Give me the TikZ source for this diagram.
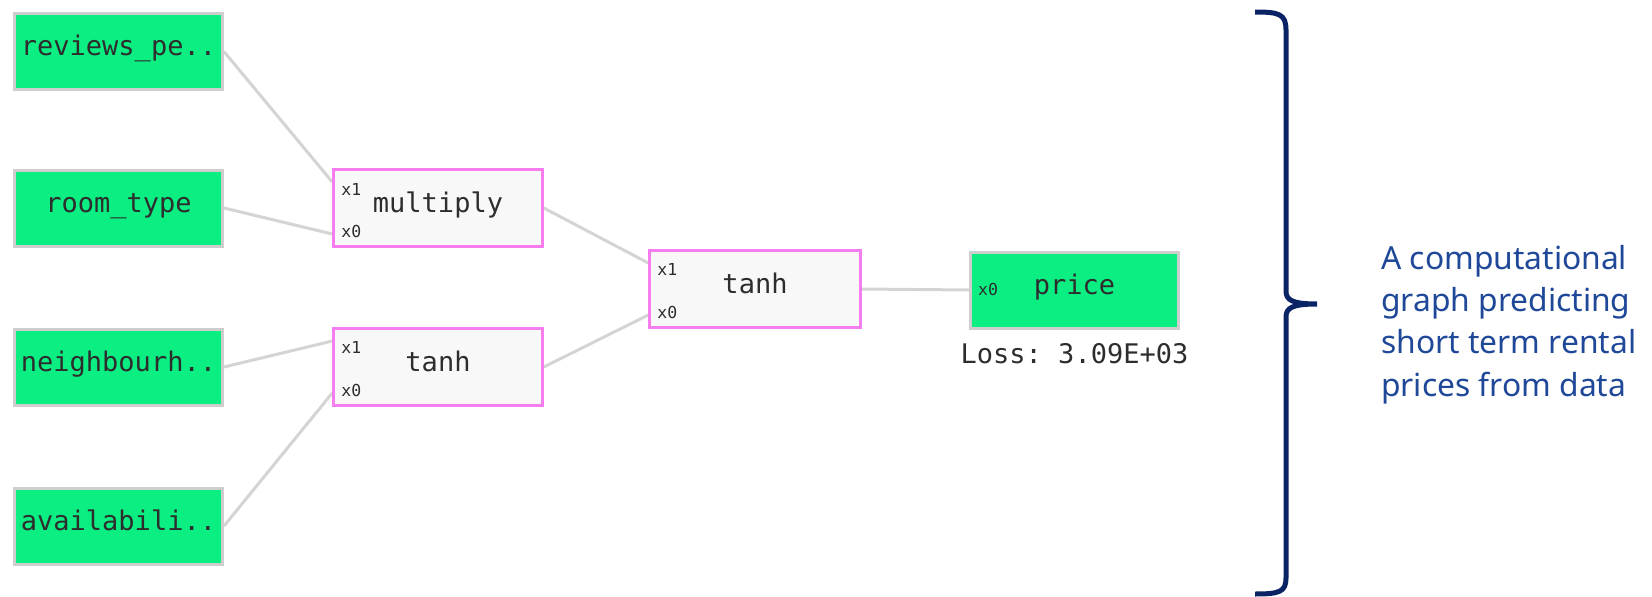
\documentclass[tikz,border=0pt]{standalone}
\usepackage{fontspec}
\setmainfont{Noto Sans}
\setmonofont{DejaVu Sans Mono}
\usetikzlibrary{backgrounds}

\definecolor{nodegreen}{RGB}{10,238,130}
\definecolor{boxgray}{RGB}{206,206,206}
\definecolor{wiregray}{RGB}{212,212,212}
\definecolor{oppink}{RGB}{245,125,240}
\definecolor{opfill}{RGB}{248,248,248}
\definecolor{labelgray}{RGB}{45,45,45}
\definecolor{bracenavy}{RGB}{10,35,100}
\definecolor{notetext}{RGB}{31,72,152}

\newcommand{\labelfont}{\ttfamily\fontsize{27}{30}\selectfont}
\newcommand{\portfont}{\ttfamily\fontsize{16.5}{18}\selectfont}
\newcommand{\notefont}{\fontsize{31.8}{42.3}\selectfont}

\begin{document}
\begin{tikzpicture}[x=1pt,y=-1pt,
  datanode/.style={draw=boxgray, line width=3pt, fill=nodegreen,
    minimum width=208pt, minimum height=76pt, inner sep=0pt,
    font=\labelfont, text=labelgray, text height=0.8em, text depth=0pt},
  opnode/.style={draw=oppink, line width=2.5pt, fill=opfill,
    minimum width=209pt, minimum height=77pt, inner sep=0pt,
    font=\labelfont, text=labelgray, text height=0.8em, text depth=0pt},
  port/.style={font=\portfont, text=labelgray, inner sep=0pt},
  wire/.style={draw=wiregray, line width=3pt},
  bracepath/.style={draw=bracenavy, line width=5pt}
]
\useasboundingbox (0,0) rectangle (1652,597);

% input columns
\node[datanode] (reviews)  at (118.5,51.6) {reviews\_pe..};
\node[datanode] (roomtype) at (118.5,208)  {room\_type};
\node[datanode] (neigh)    at (118.5,367)  {neighbourh..};
\node[datanode] (avail)    at (118.5,526)  {availabili..};

% operations
\node[opnode] (mult)  at (438,208) {multiply};
\node[opnode] (tanhA) at (438,367) {tanh};
\node[opnode, minimum width=211pt] (tanhB) at (755,289) {tanh};

% output
\node[datanode] (price) at (1074.5,290) {price};
\node[font=\labelfont, text=labelgray, inner sep=0pt] (loss) at (1074.5,354) {Loss: 3.09E+03};

% input ports
\coordinate (mult-x1)  at ([yshift=26pt]mult.west);
\coordinate (mult-x0)  at ([yshift=-26pt]mult.west);
\coordinate (tanhA-x1) at ([yshift=26pt]tanhA.west);
\coordinate (tanhA-x0) at ([yshift=-26pt]tanhA.west);
\coordinate (tanhB-x1) at ([yshift=26pt]tanhB.west);
\coordinate (tanhB-x0) at ([yshift=-26pt]tanhB.west);

\node[port] (mult-l1)  at ([xshift=19pt,yshift=19pt]mult.west)  {x1};
\node[port] (mult-l0)  at ([xshift=19pt,yshift=-23pt]mult.west) {x0};
\node[port] (tanhA-l1) at ([xshift=19pt,yshift=20pt]tanhA.west)  {x1};
\node[port] (tanhA-l0) at ([xshift=19pt,yshift=-23pt]tanhA.west) {x0};
\node[port] (tanhB-l1) at ([xshift=19pt,yshift=20pt]tanhB.west)  {x1};
\node[port] (tanhB-l0) at ([xshift=19pt,yshift=-23pt]tanhB.west) {x0};
\node[port] (price-l0) at ([xshift=19pt,yshift=1pt]price.west) {x0};

% connectors, kept behind the boxes
\begin{scope}[on background layer]
\draw[wire] (reviews.east)  -- (mult-x1);
\draw[wire] (roomtype.east) -- (mult-x0);
\draw[wire] (neigh.east)    -- (tanhA-x1);
\draw[wire] (avail.east)    -- (tanhA-x0);
\draw[wire] (mult.east)     -- (tanhB-x1);
\draw[wire] (tanhA.east)    -- (tanhB-x0);
\draw[wire] (tanhB.east)    -- (price.west);
\end{scope}

% curly brace
\draw[bracepath] (1255,12) .. controls (1279,12) and (1286,14) .. (1286,30)
  -- (1286,291) .. controls (1286,300) and (1292,304) .. (1317,304)
  .. controls (1292,304) and (1286,308) .. (1286,317)
  -- (1286,578) .. controls (1286,592) and (1279,594) .. (1255,594);

% caption
\node[font=\notefont, text=notetext, align=left, anchor=north west, inner sep=0pt]
  (note) at (1381,245) {A computational\\graph predicting\\short term rental\\prices from data};
\end{tikzpicture}
\end{document}
